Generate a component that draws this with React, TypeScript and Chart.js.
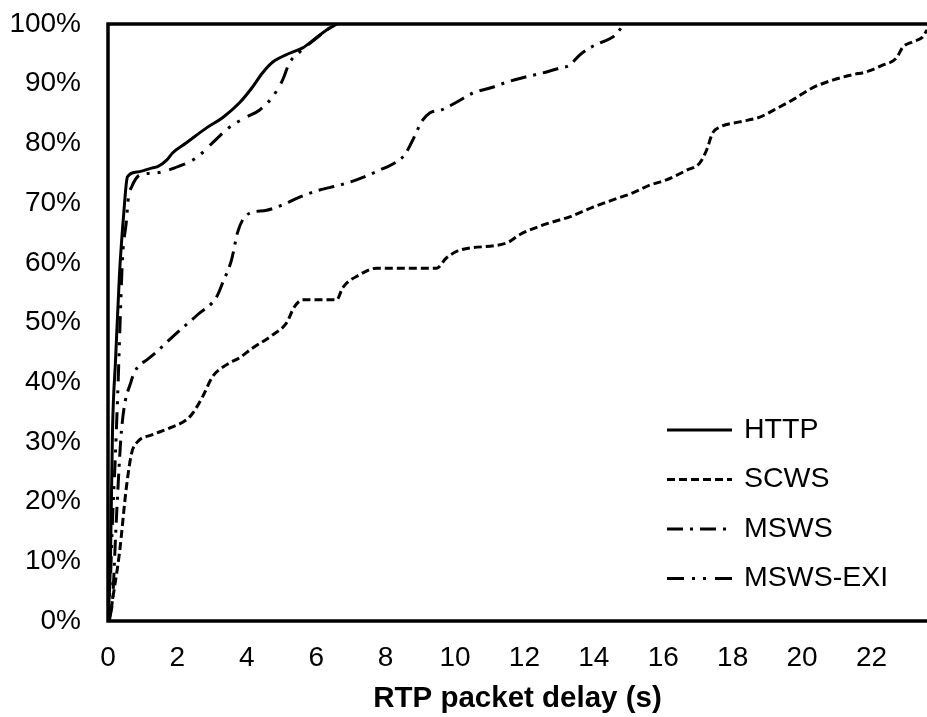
import React, { useEffect, useRef } from "react";
import { Chart, registerables } from "chart.js";

Chart.register(...registerables);

const FONT = '"Liberation Sans", Arial, Helvetica, sans-serif';

const seriesNames = ["HTTP", "SCWS", "MSWS", "MSWS-EXI"];

const xTickValues = [0, 2, 4, 6, 8, 10, 12, 14, 16, 18, 20, 22];
const xTickLabels = ["0", "2", "4", "6", "8", "10", "12", "14", "16", "18", "20", "22"];
const yTickLabels = ["0%", "10%", "20%", "30%", "40%", "50%", "60%", "70%", "80%", "90%", "100%"];

const xAxisTitle = "RTP packet delay (s)";

// [delay (s), cumulative %]
const httpPoints: [number, number][] = [
  [0, 0], [0.07, 10], [0.13, 32], [0.22, 44], [0.33, 58], [0.45, 68], [0.56, 74.4],
  [0.82, 75.2], [1.28, 75.9], [1.43, 76.1], [1.69, 77.2], [1.86, 78.4], [2.26, 80.1],
  [2.84, 82.6], [3.3, 84.3], [3.79, 86.8], [4.16, 89.4], [4.45, 91.8], [4.74, 93.6],
  [5.23, 95.1], [5.61, 96], [6.0, 97.7], [6.3, 99], [6.6, 100],
];

const scwsPoints: [number, number][] = [
  [0.04, 0], [0.13, 3.5], [0.33, 11.4], [0.53, 22.4], [0.68, 28.1], [0.85, 30], [1.28, 31.2],
  [1.77, 32.3], [2.26, 33.7], [2.44, 34.8], [2.72, 37.5], [3.01, 40.9], [3.41, 42.9],
  [3.79, 44.1], [4.16, 45.7], [4.74, 47.9], [5.14, 49.9], [5.37, 52.6], [5.61, 53.8],
  [6.59, 53.8], [6.76, 55.8], [7.25, 58], [7.74, 59.1], [9.47, 59.1], [9.75, 60.8],
  [10.13, 62.1], [11.48, 63.3], [11.86, 64.7], [12.52, 66.3], [13.3, 67.7], [13.96, 69.3],
  [14.53, 70.5], [15.12, 71.7], [15.61, 73], [16.09, 73.9], [16.67, 75.5], [17.05, 76.7],
  [17.25, 78.9], [17.42, 81.7], [17.62, 82.7], [18.2, 83.6], [18.78, 84.4], [19.35, 86.1],
  [19.73, 87.3], [20.3, 89.3], [20.88, 90.6], [21.45, 91.5], [21.86, 92], [22.32, 93.1],
  [22.72, 94.3], [22.9, 96.1], [23.18, 97], [23.47, 97.8], [23.6, 99],
];

const mswsPoints: [number, number][] = [
  [0, 0], [0.13, 3.5], [0.24, 16.9], [0.39, 32], [0.68, 40.4], [0.85, 42.5], [1.11, 43.7],
  [1.4, 45.1], [1.86, 47.6], [2.58, 51.3], [3.13, 54.3], [3.3, 56.6], [3.56, 60.5],
  [3.73, 65], [3.88, 67.2], [4.08, 68.3], [4.57, 68.8], [5.03, 69.7], [5.52, 71],
  [6.1, 72.2], [6.67, 73], [7.16, 73.9], [7.82, 75.5], [8.31, 76.9], [8.55, 78.1],
  [8.75, 80.2], [8.89, 81.9], [9.03, 83.6], [9.27, 85.1], [9.61, 85.6], [10.04, 86.9],
  [10.5, 88.4], [11.08, 89.4], [11.51, 90.3], [11.95, 91], [12.52, 91.8], [13.01, 92.6],
  [13.3, 93.1], [13.59, 94.8], [13.88, 96], [14.25, 97], [14.54, 97.8], [14.74, 99],
  [14.85, 100],
];

const mswsExiPoints: [number, number][] = [
  [0, 0], [0.07, 7], [0.13, 17], [0.2, 26], [0.28, 38], [0.36, 52], [0.42, 61], [0.53, 67],
  [0.59, 71], [0.68, 72.7], [0.91, 74.7], [1.25, 75], [1.54, 75.2], [1.92, 75.9],
  [2.55, 77.6], [3.01, 80.1], [3.5, 82.7], [3.99, 84.4], [4.37, 85.6], [4.74, 87.8],
  [5.03, 90.6], [5.23, 93.5], [5.52, 95.3], [6.0, 97.6], [6.3, 99], [6.6, 100],
];

const seriesPoints = [httpPoints, scwsPoints, mswsPoints, mswsExiPoints];
const seriesDash: number[][] = [[], [8, 4], [16, 7, 3, 7], [17, 8, 3, 8, 3, 9]];

const plotBox = {
  id: "plotBox",
  afterDatasetsDraw(chart: any) {
    const { ctx, chartArea: a } = chart;
    ctx.save();
    ctx.strokeStyle = "#000";
    ctx.lineWidth = 3.5;
    ctx.setLineDash([]);
    ctx.beginPath();
    ctx.moveTo(a.right + 4, a.top);
    ctx.lineTo(a.left, a.top);
    ctx.lineTo(a.left, a.bottom);
    ctx.lineTo(a.right + 4, a.bottom);
    ctx.stroke();
    ctx.restore();
  },
};

const innerLegend = {
  id: "innerLegend",
  afterDraw(chart: any) {
    const { ctx } = chart;
    const x0 = 667;
    const x1 = 732;
    const tx = 744;
    const y0 = 430;
    const gap = 49.5;
    ctx.save();
    chart.data.datasets.forEach((ds: any, i: number) => {
      const y = y0 + i * gap;
      ctx.strokeStyle = "#000";
      ctx.lineWidth = ds.borderWidth;
      ctx.setLineDash(ds.borderDash || []);
      ctx.beginPath();
      ctx.moveTo(x0, y);
      ctx.lineTo(x1, y);
      ctx.stroke();
      ctx.setLineDash([]);
      ctx.fillStyle = "#000";
      ctx.font = `28.5px ${FONT}`;
      ctx.textAlign = "left";
      ctx.textBaseline = "middle";
      ctx.fillText(ds.label, tx, y);
    });
    ctx.restore();
  },
};

export default function App() {
  const ref = useRef<HTMLCanvasElement | null>(null);

  useEffect(() => {
    document.body.style.margin = "0";
    const canvas = ref.current;
    if (!canvas) return;
    const chart = new Chart(canvas, {
      type: "line",
      data: {
        datasets: seriesNames.map((name, i) => ({
          label: name,
          data: seriesPoints[i].map(([x, y]) => ({ x, y })),
          borderColor: "#000",
          backgroundColor: "#000",
          borderWidth: 3,
          borderDash: seriesDash[i],
          pointRadius: 0,
          fill: false,
          cubicInterpolationMode: "monotone" as const,
        })),
      },
      options: {
        responsive: false,
        animation: false,
        devicePixelRatio: 1,
        layout: { padding: { top: 24, right: 0, left: 0, bottom: 0 } },
        plugins: {
          legend: { display: false },
          tooltip: { enabled: false },
        },
        scales: {
          x: {
            type: "linear",
            min: 0,
            max: 23.6,
            grid: { display: false, drawTicks: false },
            border: { display: false },
            ticks: {
              autoSkip: false,
              maxRotation: 0,
              color: "#000",
              padding: 20,
              font: { family: FONT, size: 28 },
              callback: (v: any, idx: number) => xTickLabels[idx] ?? "",
            },
            title: {
              display: true,
              text: xAxisTitle,
              color: "#000",
              font: { family: FONT, size: 29.5, weight: "bold" },
              padding: { top: 0, bottom: 0 },
            },
            afterBuildTicks: (s: any) => {
              s.ticks = xTickValues.map((v) => ({ value: v }));
            },
            afterFit: (s: any) => {
              s.height = 96;
              s.paddingLeft = 0;
              s.paddingRight = 0;
            },
          },
          y: {
            min: 0,
            max: 100,
            grid: { display: false, drawTicks: false },
            border: { display: false },
            ticks: {
              stepSize: 10,
              color: "#000",
              padding: 27,
              font: { family: FONT, size: 28 },
              callback: (v: any, idx: number) => yTickLabels[idx] ?? "",
            },
            afterFit: (s: any) => {
              s.width = 108;
              s.paddingTop = 0;
              s.paddingBottom = 0;
            },
          },
        },
      },
      plugins: [plotBox, innerLegend],
    });
    return () => chart.destroy();
  }, []);

  return (
    <div style={{ position: "absolute", left: 0, top: 0, width: 927, height: 717, background: "#fff" }}>
      <canvas ref={ref} width={927} height={717} style={{ display: "block" }} />
    </div>
  );
}
